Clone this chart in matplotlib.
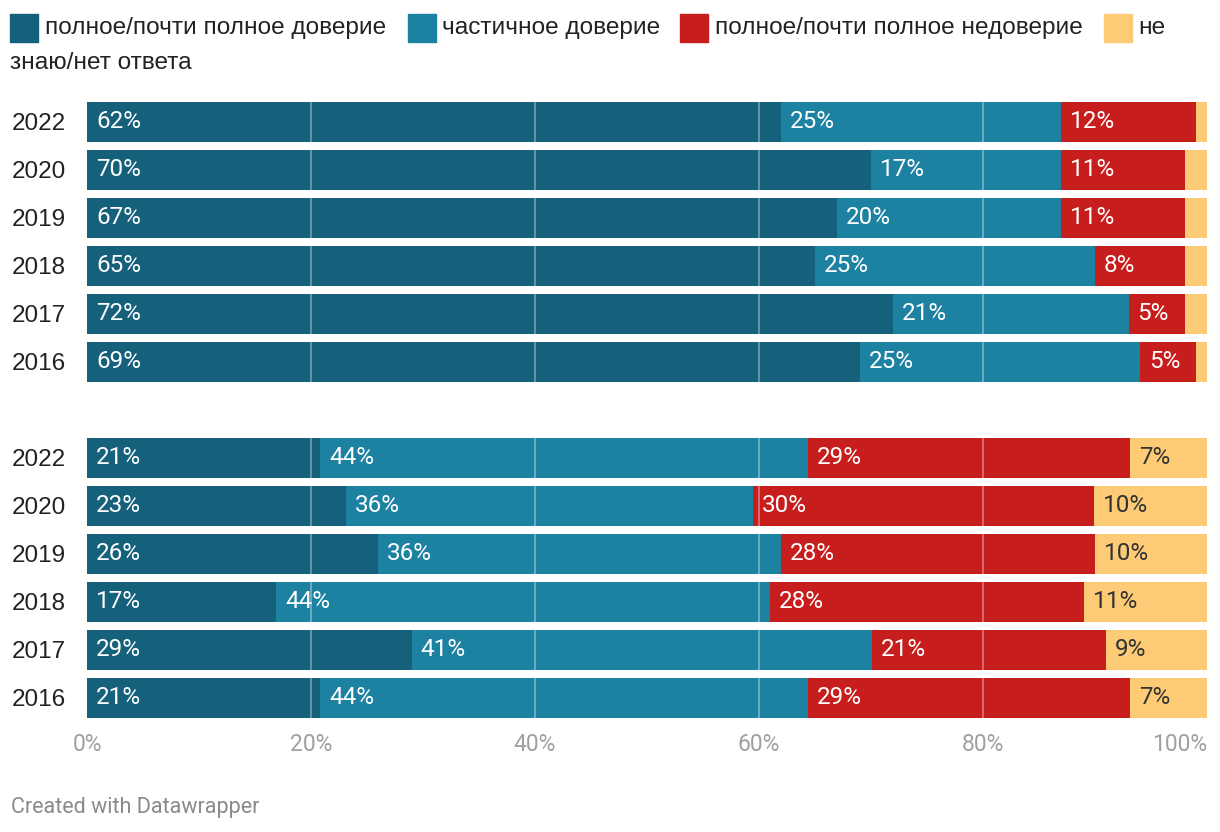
import numpy as np
import matplotlib.pyplot as plt
from matplotlib.patches import Rectangle

plt.rcParams['font.family'] = ['Roboto', 'DejaVu Sans']

# категории
categories = ['полное/почти полное доверие', 'частичное доверие',
              'полное/почти полное недоверие', 'не знаю/нет ответа']
colors = ['#15607a', '#1d81a2', '#c71e1d', '#fdca76']
label_colors = ['white', 'white', 'white', '#333333']

years = ['2022', '2020', '2019', '2018', '2017', '2016']

# верхняя группа
top_trust = [62, 70, 67, 65, 72, 69]
top_partial = [25, 17, 20, 25, 21, 25]
top_distrust = [12, 11, 11, 8, 5, 5]
top_unknown = [1, 2, 2, 2, 2, 1]

# нижняя группа
bot_trust = [20.8, 23.1, 26, 16.9, 29, 20.8]
bot_partial = [43.6, 36.4, 36, 44.1, 41.1, 43.6]
bot_distrust = [28.7, 30.4, 28, 28, 20.9, 28.7]
bot_unknown = [6.9, 10.1, 10, 11, 9, 6.9]

W, H = 1220, 832
fig = plt.figure(figsize=(W / 100, H / 100), dpi=100)
ax = fig.add_axes([87 / W, 1 - 722 / H, 1120 / W, 624 / H])

top_pos = np.arange(6)
bot_pos = np.arange(6) + 7

groups = [
    (top_pos, [top_trust, top_partial, top_distrust, top_unknown]),
    (bot_pos, [bot_trust, bot_partial, bot_distrust, bot_unknown]),
]

for pos, series in groups:
    left = np.zeros(len(pos))
    for i, vals in enumerate(series):
        vals = np.array(vals, dtype=float)
        ax.barh(pos, vals, left=left, height=40 / 48, color=colors[i], zorder=1)
        for y, l, v in zip(pos, left, vals):
            if v >= 4:
                ax.text(l + 0.8, y, f'{round(v)}%', color=label_colors[i],
                        va='center', ha='left', fontsize=17.5, zorder=3)
        left += vals

for x in [20, 40, 60, 80]:
    ax.axvline(x, color='white', alpha=0.4, lw=1.2, zorder=2)

ax.set_xlim(0, 100)
ax.set_ylim(12.5, -0.5)
ax.set_yticks(list(top_pos) + list(bot_pos))
ax.set_yticklabels(years + years, fontsize=17.5, color='#222222',
                   family=['Liberation Sans', 'DejaVu Sans'])
for lbl in ax.get_yticklabels():
    lbl.set_horizontalalignment('left')
ax.tick_params(axis='y', length=0, pad=75 * 0.72)
ax.set_xticks([0, 20, 40, 60, 80, 100])
ax.set_xticklabels(['0%', '20%', '40%', '60%', '80%', '100%'],
                   fontsize=16.5, color='#a0a0a0')
ax.get_xticklabels()[-1].set_horizontalalignment('right')
ax.tick_params(axis='x', length=0, pad=8)
for s in ax.spines.values():
    s.set_visible(False)

# легенда вручную
def px(x, y):
    return x / W, 1 - y / H

legend_items = [(10, 45, categories[0]), (408, 442, categories[1]),
                (680, 715, categories[2]), (1104, 1138, 'не')]
for (sx, tx, txt), c in zip(legend_items, colors):
    fx, fy = px(sx, 42)
    fig.patches.append(Rectangle((fx, fy), 28 / W, 28 / H, color=c,
                                 transform=fig.transFigure, figure=fig))
    fig.text(*px(tx, 28), txt, fontsize=17.6, color='#222222', va='center', ha='left',
             family=['Liberation Sans', 'DejaVu Sans'])
fig.text(*px(10, 63), 'знаю/нет ответа', fontsize=17.6, color='#222222',
         va='center', ha='left', family=['Liberation Sans', 'DejaVu Sans'])

fig.text(*px(11, 807), 'Created with Datawrapper', fontsize=15.5, color='#8a8a8a',
         va='center', ha='left')

fig.savefig('out.png', dpi=100)
